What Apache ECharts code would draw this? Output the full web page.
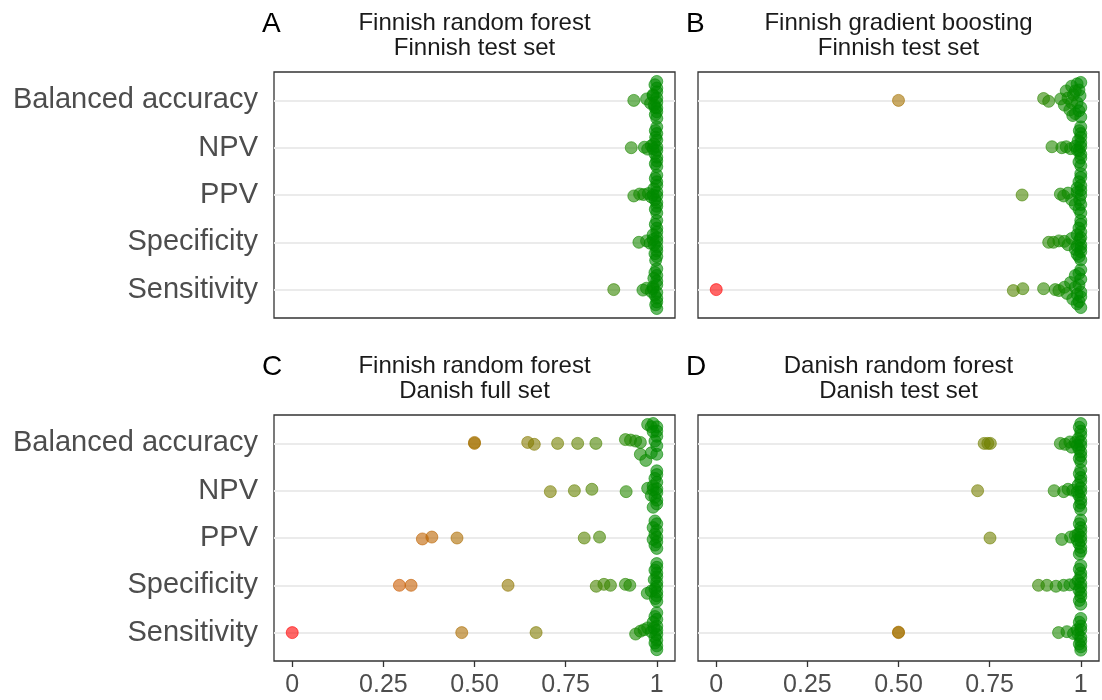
<!DOCTYPE html>
<html>
<head>
<meta charset="utf-8">
<script src="https://cdn.jsdelivr.net/npm/echarts@6/dist/echarts.min.js"></script>
<style>
html,body{margin:0;padding:0;background:#fff}
#main{width:1102px;height:700px}
</style>
</head>
<body>
<div id="main"></div>
<script>
// y positions 1..5, bottom to top
var metrics = ['Sensitivity', 'Specificity', 'PPV', 'NPV', 'Balanced accuracy'];
var xTicks = [0, 0.25, 0.5, 0.75, 1];
var xTickLabels = ['0', '0.25', '0.50', '0.75', '1'];
var panelLetters = ['A', 'B', 'C', 'D'];
var panelTitles = [
    'Finnish random forest\nFinnish test set',
    'Finnish gradient boosting\nFinnish test set',
    'Finnish random forest\nDanish full set',
    'Danish random forest\nDanish test set'
];

// [score, vertical jitter] for each metric, same order as metrics
var fiRfFiTest = [
    [[0.882,0],[0.962,-0.01],[0.972,0.03],[0.985,-0.04],[0.99,0.06],[1,0.44],[0.995,0.36],[1,0.3],[0.992,0.24],[1,0.18],[1,0.1],[0.99,0.02],[1,-0.06],[0.995,-0.12],[1,-0.18],[1,-0.26],[0.997,-0.32],[1,-0.4]],
    [[0.951,0],[0.972,0.03],[0.982,-0.02],[0.99,0.06],[1,0.46],[0.996,0.38],[1,0.3],[1,0.22],[0.99,0.16],[1,0.1],[1,0.02],[0.993,-0.05],[1,-0.1],[1,-0.18],[0.995,-0.24],[1,-0.3],[0.997,-0.38]],
    [[0.937,-0.02],[0.953,0.02],[0.964,0.01],[0.977,0.03],[0.985,-0.04],[0.99,0],[1,0.42],[0.996,0.35],[1,0.28],[1,0.2],[0.992,0.13],[1,0.06],[1,-0.02],[0.995,-0.1],[1,-0.16],[1,-0.24],[0.996,-0.3],[1,-0.38]],
    [[0.93,0],[0.966,0.01],[0.975,-0.03],[0.985,0.04],[0.99,-0.02],[1,0.44],[0.996,0.36],[1,0.3],[0.997,0.22],[1,0.16],[0.992,0.08],[1,0.02],[1,-0.06],[0.995,-0.13],[1,-0.2],[1,-0.28],[0.996,-0.34],[1,-0.4]],
    [[0.937,0],[0.972,0.03],[0.983,-0.06],[0.99,0.1],[0.995,-0.15],[1,0.4],[0.995,0.33],[1,0.26],[1,0.18],[0.99,0.12],[1,0.05],[1,-0.04],[0.993,-0.1],[1,-0.16],[1,-0.24],[0.996,-0.3],[1,-0.38]]
];
var fiGbFiTest = [
    [[0,0],[0.815,-0.02],[0.841,0.02],[0.898,0.02],[0.93,0],[0.94,-0.02],[0.955,0.05],[0.962,-0.08],[0.972,0.15],[0.978,-0.2],[0.985,0.3],[0.99,-0.3],[0.995,0.1],[1,0.42],[0.995,0.34],[1,0.22],[1,-0.05],[0.99,-0.1],[1,-0.15],[1,-0.38],[0.995,-0.25],[0.985,0.05]],
    [[0.912,0],[0.925,0],[0.94,0.03],[0.955,0.02],[0.965,-0.05],[0.975,0.08],[0.985,-0.15],[0.99,-0.25],[1,0.46],[1,0.38],[0.995,0.3],[1,0.22],[0.99,0.16],[1,0.1],[0.997,0.05],[1,-0.05],[0.99,-0.08],[1,-0.12],[1,-0.2],[0.995,-0.3],[1,-0.37]],
    [[0.839,0],[0.944,0.02],[0.953,-0.02],[0.965,0.04],[0.975,-0.1],[0.985,-0.2],[0.99,0.15],[1,0.45],[1,0.37],[0.995,0.28],[1,0.2],[0.99,0.06],[1,0.1],[1,0],[0.997,-0.1],[1,-0.2],[0.995,-0.3],[1,-0.38]],
    [[0.921,0.02],[0.948,0],[0.96,0.02],[0.972,-0.02],[0.985,0.03],[0.99,-0.05],[1,0.44],[0.996,0.36],[1,0.3],[1,0.22],[0.993,0.15],[1,0.1],[1,0.02],[0.996,-0.06],[1,-0.14],[1,-0.22],[0.995,-0.3],[1,-0.38]],
    [[0.5,0],[0.898,0.04],[0.912,-0.02],[0.945,0.03],[0.955,-0.1],[0.96,0.2],[0.965,0.05],[0.97,-0.2],[0.975,0.3],[0.98,0.12],[0.985,-0.28],[0.99,0.35],[0.99,-0.05],[0.995,0.22],[1,0.38],[1,-0.15],[1,-0.35],[0.998,0.1],[0.978,-0.32],[0.985,0.2],[0.975,-0.05],[0.995,-0.22]]
];
var fiRfDkFull = [
    [[0,0],[0.465,0],[0.669,0],[0.942,-0.03],[0.955,0.03],[0.965,0.06],[0.975,0.1],[0.985,0.02],[1,0.42],[0.995,0.34],[1,0.28],[0.99,0.22],[1,0.14],[0.992,0.1],[1,0.05],[1,-0.04],[0.995,-0.1],[1,-0.16],[0.995,-0.22],[1,-0.28],[1,-0.36]],
    [[0.294,0],[0.326,0],[0.592,0],[0.834,-0.02],[0.855,0.02],[0.873,0],[0.914,0.02],[0.926,0],[0.974,-0.17],[0.985,-0.12],[1,0.46],[1,0.38],[0.995,0.32],[1,0.26],[1,0.18],[0.993,0.12],[1,0.06],[1,-0.02],[0.995,-0.08],[1,-0.14],[1,-0.22],[0.996,-0.28],[1,-0.34]],
    [[0.357,-0.02],[0.383,0.02],[0.452,0],[0.801,0],[0.843,0.02],[0.995,0.36],[1,0.3],[0.99,0.22],[1,0.16],[0.995,0.08],[1,0.02],[0.99,-0.03],[1,-0.08],[0.995,-0.15],[1,-0.22]],
    [[0.708,-0.02],[0.774,0],[0.822,0.03],[0.916,-0.02],[0.975,0.05],[0.985,-0.1],[0.99,0.02],[1,0.42],[1,0.34],[0.995,0.26],[1,0.18],[0.99,0.1],[1,0.04],[1,-0.04],[0.995,-0.14],[1,-0.2],[1,-0.28],[0.99,-0.35]],
    [[0.5,0],[0.5,0.02],[0.646,0.02],[0.664,-0.02],[0.728,0],[0.783,0],[0.833,0],[0.914,0.08],[0.928,0.07],[0.942,0.05],[0.955,0.02],[0.955,-0.23],[0.97,-0.36],[0.985,-0.2],[1,-0.23],[0.975,0.4],[0.985,0.35],[0.99,0.25],[1,0.35],[1,0.15],[0.995,0.05],[1,-0.05],[0.99,0.42],[1,0.26]]
];
var dkRfDkTest = [
    [[0.5,0],[0.5,0.01],[0.939,0],[0.962,0.02],[0.98,-0.02],[0.99,0.06],[1,0.3],[0.996,0.22],[1,0.14],[1,0.06],[0.993,-0.04],[1,-0.1],[1,-0.18],[0.996,-0.24],[1,-0.3],[1,-0.37]],
    [[0.884,0],[0.907,0],[0.932,-0.02],[0.953,0],[0.97,0.01],[0.985,0.03],[1,0.42],[0.996,0.34],[1,0.26],[1,0.18],[0.993,0.1],[1,0.04],[1,-0.04],[0.995,-0.1],[1,-0.16],[1,-0.24],[0.996,-0.32],[1,-0.4]],
    [[0.751,0],[0.948,-0.03],[0.972,0.02],[0.985,0.05],[0.99,-0.04],[1,0.38],[0.996,0.3],[1,0.22],[1,0.14],[0.993,0.08],[1,0.02],[1,-0.06],[0.995,-0.12],[1,-0.2],[1,-0.28],[0.996,-0.34]],
    [[0.717,0],[0.927,0],[0.953,-0.02],[0.965,0.03],[0.978,0.01],[0.99,-0.03],[1,0.44],[0.996,0.36],[1,0.28],[1,0.2],[0.993,0.12],[1,0.06],[1,-0.02],[0.995,-0.1],[1,-0.18],[1,-0.26],[0.996,-0.32],[1,-0.4]],
    [[0.735,0],[0.745,0],[0.752,0],[0.944,0],[0.957,-0.02],[0.97,0.03],[0.975,-0.08],[0.985,0.02],[0.99,-0.04],[1,0.42],[0.996,0.34],[1,0.26],[1,0.18],[0.993,0.1],[1,0.04],[1,-0.04],[0.995,-0.12],[1,-0.18],[1,-0.26],[0.996,-0.32],[1,-0.39]]
];
var panelData = [fiRfFiTest, fiGbFiTest, fiRfDkFull, dkRfDkTest];

// red -> green4, stepped through Lab
var colorStops = ['#ff0000', '#d35600', '#a57100', '#708100', '#008b00'];

var FONT = '"Liberation Sans", Arial, sans-serif';
var grids = [
    {left: 274, top: 72, width: 401, height: 246},
    {left: 698, top: 72, width: 401, height: 246},
    {left: 274, top: 415, width: 401, height: 246},
    {left: 698, top: 415, width: 401, height: 246}
];

var xAxes = [], yAxes = [], series = [], graphics = [];
grids.forEach(function (g, i) {
    g.show = true;
    g.borderColor = '#333';
    g.borderWidth = 1.3;
    g.backgroundColor = '#fff';
    g.containLabel = false;
    var bottom = i >= 2, left = (i % 2 === 0);
    xAxes.push({
        type: 'value', gridIndex: i, min: -0.05, max: 1.05,
        axisLine: {show: false},
        splitLine: {show: false},
        axisTick: {show: bottom, customValues: xTicks, length: 6, lineStyle: {color: '#333', width: 1.3}},
        axisLabel: {
            show: bottom, customValues: xTicks, margin: 12,
            color: '#4d4d4d', fontSize: 25, fontFamily: FONT,
            formatter: function (v) { return xTickLabels[xTicks.indexOf(v)]; }
        }
    });
    yAxes.push({
        type: 'value', gridIndex: i, min: 0.4, max: 5.6,
        axisLine: {show: false},
        axisTick: {show: false, customValues: [1, 2, 3, 4, 5]},
        splitLine: {show: true, lineStyle: {color: '#ebebeb', width: 2}},
        axisLabel: {
            show: left, customValues: [1, 2, 3, 4, 5], margin: 16,
            color: '#4d4d4d', fontSize: 29, fontFamily: FONT,
            formatter: function (v) { return metrics[Math.round(v) - 1]; }
        }
    });
    var pts = [];
    panelData[i].forEach(function (list, m) {
        list.forEach(function (p) {
            var c = echarts.color.lerp(p[0], colorStops);
            pts.push({value: [p[0], m + 1 + p[1]], itemStyle: {color: c, borderColor: c}});
        });
    });
    series.push({
        type: 'scatter', xAxisIndex: i, yAxisIndex: i,
        symbolSize: 12,
        itemStyle: {opacity: 0.6, borderWidth: 1},
        data: pts
    });
    var cx = g.left + g.width / 2;
    graphics.push({
        type: 'text', x: cx, y: g.top - 61,
        style: {text: panelTitles[i], align: 'center', verticalAlign: 'top', font: '24px ' + FONT, fill: '#1a1a1a', lineHeight: 25}
    });
    graphics.push({
        type: 'text', x: g.left - 12, y: g.top - 48,
        style: {text: panelLetters[i], align: 'left', verticalAlign: 'middle', font: '28px ' + FONT, fill: '#000'}
    });
});

var chart = echarts.init(document.getElementById('main'));
chart.setOption({
    animation: false,
    backgroundColor: '#fff',
    grid: grids,
    xAxis: xAxes,
    yAxis: yAxes,
    series: series,
    graphic: graphics
});
</script>
</body>
</html>
